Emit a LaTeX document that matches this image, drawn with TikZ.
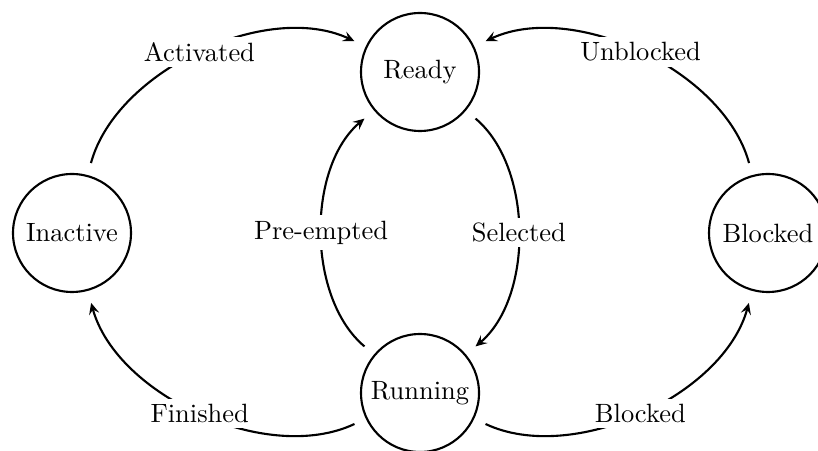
\documentclass[tikz,border=0pt]{standalone}
\usetikzlibrary{arrows.meta}
\tikzset{
  state/.style={draw, thick, circle, minimum size=44.6pt, inner sep=0pt, outer sep=5.1pt, font=\normalsize},
  edge/.style={thick, -{Stealth[length=4.3pt,width=3.9pt,inset=1.7pt]}, looseness=0.85},
  lab/.style={fill=white, inner sep=2pt}
}
\begin{document}
\begin{tikzpicture}[x=0.378pt,y=-0.378pt]
\useasboundingbox (0,0) rectangle (818,451);
\clip (0,0) rectangle (818,451);
\node[state] (ready) at (420,72) {Ready};
\node[state] (running) at (420,393) {Running};
\node[state] (inactive) at (72,233) {Inactive};
\node[state] (blocked) at (768,233) {Blocked};
\draw[edge] (inactive) to[bend left=50] node[lab]{Activated} (ready);
\draw[edge] (blocked) to[bend right=50] node[lab]{Unblocked} (ready);
\draw[edge] (ready) to[bend left=50] node[lab]{Selected} (running);
\draw[edge] (running) to[bend left=50] node[lab]{Pre-empted} (ready);
\draw[edge] (running) to[bend left=50] node[lab]{Finished} (inactive);
\draw[edge] (running) to[bend right=50] node[lab]{Blocked} (blocked);
\end{tikzpicture}
\end{document}
